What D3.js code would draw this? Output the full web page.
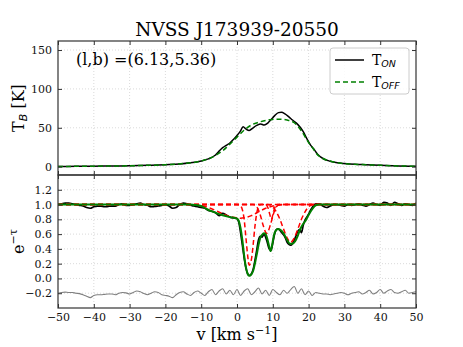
<!DOCTYPE html>
<html><head><meta charset="utf-8">
<script src="https://cdn.jsdelivr.net/npm/d3@7"></script>
<style>body{margin:0;background:#fff}svg{display:block}</style>
</head><body>
<svg id="c" width="463" height="347"></svg>
<script>
// ---------------- DATA ----------------
const titleText = "NVSS J173939-20550";
const coordText = "(l,b) =(6.13,5.36)";
const xTicks = [-50,-40,-30,-20,-10,0,10,20,30,40,50];
const tbTicks = [0,50,100,150];
const etTicks = [-0.2,0.0,0.2,0.4,0.6,0.8,1.0,1.2];

// Emission: T_ON
const tonV = [-50,-45,-40,-35,-30,-25,-20,-16,-13,-10,-8,-6,-5,-4,-3,-2,-1,0,1,1.7,2.5,3.4,4.5,5.5,6.6,7.6,8.6,9.6,10.6,11.6,12.4,13.4,14.5,15.5,16.6,17.6,18.5,19.5,20.5,21.4,22.5,24,26,28,30,33,36,40,45,50];
const tonT = [0.3,0.4,0.6,0.9,1.2,1.8,2.6,3.5,5,7.4,10,15,20,24.5,27.5,30.5,35,40,46,51.5,48.5,46.5,50,53,55,53.5,56,61,66,69.5,70,68,64,60,56,51,45,36,28,23,16,10.5,7,5,4,3,2.5,1.8,1,0.5];
// Emission: T_OFF
const toffV = [-50,-40,-30,-20,-15,-12,-10,-8,-6,-4,-2,0,2,4,6,8,10,12,14,16,18,20,21.3,22,24,26,28,30,35,40,45,50];
const toffT = [0.3,0.6,1.2,2.6,4,5.5,7.3,10,14.5,20.5,29,38,47,53.5,57,59.5,60.8,61,60,56.5,46,31,23,18,10.5,7.2,5,4,2.7,1.8,1,0.5];

// Absorption: observed e^-tau
const obsV = [-50,-49,-48,-47,-46,-45,-44,-43,-42,-41,-40,-39,-38,-37,-36,-35,-34,-33,-32,-31,-30,-29,-28,-27,-26,-25,-24,-23,-22,-21,-20,-19,-18,-17,-16,-15,-14,-13,-12,-11,-10,-9,-8,-7,-6,-5,-4,-3,-2,-1,-0.5,0,0.5,1,1.5,2,2.5,3,3.5,4,4.5,5,5.5,6,6.5,7,7.5,8,8.5,9,9.5,10,10.5,11,11.5,12,12.5,13,13.5,14,14.5,15,15.5,16,16.5,17,17.5,18,18.5,19,19.5,20,20.5,21,21.5,22,23,24,25,26,27,28,29,30,31,32,33,34,35,36,37,38,39,40,41,42,43,44,45,46,47,48,49,50];
const obsE = [1.0,1.01,1.02,1.02,1.01,1.0,0.99,0.98,0.96,0.95,0.97,0.98,0.98,0.97,0.975,0.98,0.98,1.0,1.01,0.99,0.99,1.0,1.01,1.02,1.0,0.99,0.97,0.975,0.98,0.99,1.0,0.98,0.95,0.96,1.0,1.02,1.01,0.99,0.98,0.97,0.96,0.95,0.92,0.91,0.89,0.85,0.88,0.86,0.83,0.82,0.82,0.81,0.76,0.62,0.45,0.28,0.14,0.06,0.04,0.06,0.12,0.24,0.38,0.52,0.57,0.56,0.6,0.56,0.48,0.4,0.38,0.48,0.6,0.66,0.67,0.65,0.62,0.59,0.55,0.49,0.46,0.45,0.47,0.52,0.58,0.64,0.66,0.62,0.72,0.79,0.83,0.87,0.92,0.96,0.99,1.01,1.01,0.98,0.96,0.98,1.0,1.0,0.99,0.98,1.0,0.99,1.0,1.01,0.99,0.98,1.0,1.02,1.0,0.99,1.03,1.02,0.99,1.03,1.01,0.99,1.01,1.0,0.99,1.02];

// Absorption: Gaussian fit (total)
const fitV = [-50,-30,-15,-13,-12,-10,-8.5,-6,-4,-2,0,0.5,1,1.5,2,2.5,3,3.4,4,4.5,5,5.5,6,6.5,7,7.5,8,8.5,9,9.4,9.8,10.3,11,11.5,12,13,14,14.8,15.5,16.2,17,17.6,18.5,19,20,20.9,22,23,50];
const fitE = [1,1,1,1,0.995,0.98,0.94,0.89,0.855,0.83,0.81,0.78,0.68,0.52,0.31,0.15,0.06,0.035,0.055,0.1,0.2,0.32,0.45,0.55,0.59,0.61,0.6,0.53,0.43,0.37,0.45,0.58,0.66,0.67,0.66,0.61,0.52,0.47,0.47,0.5,0.58,0.66,0.74,0.77,0.86,0.93,0.99,1,1];

// Absorption: individual components
const compA_V = [-50,0,0.8,1.5,2,2.5,3,3.4,4,4.5,5,5.5,6,6.7,50];
const compA_E = [1,1,0.99,0.93,0.8,0.55,0.3,0.18,0.25,0.45,0.7,0.88,0.97,1,1];
const compB_V = [-50,-14,-12,-10,-8,-6,-4,-2,0,1,2,4,6,8,10,12,14,50];
const compB_E = [1,1,0.995,0.985,0.96,0.92,0.875,0.84,0.82,0.815,0.82,0.85,0.9,0.95,0.98,0.995,1,1];
const compC_V = [-50,4.5,5.5,6.5,7.3,8.3,9.3,10.1,11,12,50];
const compC_E = [1,1,0.97,0.86,0.72,0.61,0.72,0.86,0.97,1,1];
const compD_V = [-50,8,8.7,9.2,9.6,10,10.5,11.2,50];
const compD_E = [1,1,0.95,0.86,0.8,0.86,0.95,1,1];
const compE_V = [-50,8.5,10,11,12,13,14,15,16,17,18,19,20,21.5,50];
const compE_E = [1,1,0.97,0.9,0.8,0.67,0.55,0.49,0.55,0.67,0.8,0.9,0.97,1,1];

// Residuals (offset to -0.2)
const resV = d3.range(-50, 51, 1);
const resE = [-0.2,-0.19,-0.185,-0.19,-0.19,-0.2,-0.205,-0.22,-0.24,-0.26,-0.23,-0.22,-0.22,-0.215,-0.21,-0.21,-0.22,-0.2,-0.19,-0.195,-0.21,-0.19,-0.17,-0.18,-0.205,-0.22,-0.2,-0.18,-0.19,-0.22,-0.23,-0.24,-0.26,-0.22,-0.19,-0.18,-0.21,-0.23,-0.19,-0.17,-0.2,-0.23,-0.18,-0.15,-0.22,-0.17,-0.14,-0.21,-0.16,-0.22,-0.15,-0.23,-0.17,-0.14,-0.22,-0.18,-0.13,-0.21,-0.16,-0.23,-0.15,-0.19,-0.22,-0.16,-0.2,-0.15,-0.11,-0.2,-0.14,-0.22,-0.17,-0.23,-0.19,-0.2,-0.21,-0.21,-0.22,-0.21,-0.2,-0.19,-0.2,-0.22,-0.2,-0.19,-0.18,-0.21,-0.19,-0.16,-0.21,-0.19,-0.15,-0.2,-0.17,-0.15,-0.19,-0.2,-0.18,-0.16,-0.2,-0.19,-0.18];

// ---------------- DRAW ----------------
const svg = d3.select("#c");
const L = 58, R = 416, T1 = 41, B1 = 175, T2 = 175, B2 = 308;
const serif = "DejaVu Serif";
const x = d3.scaleLinear().domain([-50, 50]).range([L, R]);
const y1 = d3.scaleLinear().domain([-10.7, 161.6]).range([B1, T1]);
const y2 = d3.scaleLinear().domain([-0.4, 1.4]).range([B2, T2]);

const zip = (a, b) => a.map((v, i) => [v, b[i]]);

function panel(y, top, bot, yTickVals, cid) {
  svg.append("clipPath").attr("id", cid).append("rect")
    .attr("x", L).attr("y", top).attr("width", R - L).attr("height", bot - top);
  const g = svg.append("g");
  g.selectAll(null).data(xTicks.slice(1, -1)).enter().append("line")
    .attr("x1", d => x(d)).attr("x2", d => x(d)).attr("y1", top).attr("y2", bot)
    .attr("stroke", "#d0d0d0").attr("stroke-width", 0.8).attr("stroke-dasharray", "1,2");
  g.selectAll(null).data(yTickVals).enter().append("line")
    .attr("x1", L).attr("x2", R).attr("y1", d => y(d)).attr("y2", d => y(d))
    .attr("stroke", "#d0d0d0").attr("stroke-width", 0.8).attr("stroke-dasharray", "1,2");
  return g;
}

panel(y1, T1, B1, tbTicks, "cp1");
panel(y2, T2, B2, etTicks, "cp2");

const ln = (ys) => d3.line().x(d => x(d[0])).y(d => ys(d[1])).curve(d3.curveMonotoneX);

// top panel curves
const c1 = svg.append("g").attr("clip-path", "url(#cp1)");
c1.append("path").attr("d", ln(y1)(zip(tonV, tonT))).attr("fill", "none")
  .attr("stroke", "#000").attr("stroke-width", 1.5);
c1.append("path").attr("d", ln(y1)(zip(toffV, toffT))).attr("fill", "none")
  .attr("stroke", "#008000").attr("stroke-width", 1.5).attr("stroke-dasharray", "5,3");

// bottom panel curves
const c2 = svg.append("g").attr("clip-path", "url(#cp2)");
c2.append("path").attr("d", ln(y2)(zip(resV, resE))).attr("fill", "none")
  .attr("stroke", "#808080").attr("stroke-width", 1.1);
c2.append("path").attr("d", ln(y2)(zip(obsV, obsE))).attr("fill", "none")
  .attr("stroke", "#000").attr("stroke-width", 1.7);
[[compB_V, compB_E], [compA_V, compA_E], [compC_V, compC_E], [compD_V, compD_E], [compE_V, compE_E]]
  .forEach(([v, e]) => {
    c2.append("path").attr("d", ln(y2)(zip(v, e))).attr("fill", "none")
      .attr("stroke", "#ff0000").attr("stroke-width", 1.5).attr("stroke-dasharray", "5,3");
  });
c2.append("path").attr("d", ln(y2)(zip(fitV, fitE))).attr("fill", "none")
  .attr("stroke", "#008000").attr("stroke-width", 2);

// axes
function axes(y, top, bot, yTickVals, fmt, showX) {
  const ax = svg.append("g").attr("transform", `translate(0,${bot})`)
    .call(d3.axisBottom(x).tickValues(xTicks).tickSizeInner(-4).tickSizeOuter(0)
      .tickPadding(5).tickFormat(showX ? d3.format("d") : ""));
  const axt = svg.append("g").attr("transform", `translate(0,${top})`)
    .call(d3.axisTop(x).tickValues(xTicks).tickSizeInner(-4).tickSizeOuter(0).tickFormat(""));
  const ayl = svg.append("g").attr("transform", `translate(${L},0)`)
    .call(d3.axisLeft(y).tickValues(yTickVals).tickSizeInner(-4).tickSizeOuter(0)
      .tickPadding(6).tickFormat(fmt));
  const ayr = svg.append("g").attr("transform", `translate(${R},0)`)
    .call(d3.axisRight(y).tickValues(yTickVals).tickSizeInner(-4).tickSizeOuter(0).tickFormat(""));
  [ax, axt, ayl, ayr].forEach(a => {
    a.select(".domain").remove();
    a.selectAll("line").attr("stroke", "#333");
    a.selectAll("text").attr("font-family", serif).attr("font-size", 11).attr("fill", "#111");
  });
  svg.append("rect").attr("x", L).attr("y", top).attr("width", R - L).attr("height", bot - top)
    .attr("fill", "none").attr("stroke", "#333").attr("stroke-width", 1.2);
}
axes(y1, T1, B1, tbTicks, d3.format("d"), false);
axes(y2, T2, B2, etTicks, d => d3.format(".1f")(d), true);

// texts
svg.append("text").attr("x", (L + R) / 2).attr("y", 36).attr("text-anchor", "middle")
  .attr("font-family", serif).attr("font-size", 18.5).attr("fill", "#000").text(titleText);
svg.append("text").attr("x", 76).attr("y", 65).attr("font-family", serif)
  .attr("font-size", 16).attr("fill", "#000").text(coordText);

// y label top
const yl1 = svg.append("text").attr("transform", `translate(24,${(T1 + B1) / 2}) rotate(-90)`)
  .attr("text-anchor", "middle").attr("font-family", serif).attr("font-size", 16).attr("fill", "#000");
yl1.append("tspan").text("T");
yl1.append("tspan").attr("font-family", "DejaVu Sans").attr("font-style", "italic")
  .attr("font-size", 11).attr("dy", 3).text("B");
yl1.append("tspan").attr("dy", -3).text(" [K]");

// y label bottom
const yl2 = svg.append("text").attr("transform", `translate(24,${(T2 + B2) / 2}) rotate(-90)`)
  .attr("text-anchor", "middle").attr("font-family", serif).attr("font-size", 16).attr("fill", "#000");
yl2.append("tspan").text("e");
yl2.append("tspan").attr("font-size", 11).attr("dy", -7).text("−τ");

// x label
const xl = svg.append("text").attr("x", (L + R) / 2).attr("y", 340).attr("text-anchor", "middle")
  .attr("font-family", serif).attr("font-size", 16).attr("fill", "#000");
xl.append("tspan").text("v [km s");
xl.append("tspan").attr("font-size", 11).attr("dy", -6).text("−1");
xl.append("tspan").attr("dy", 6).text("]");

// legend
const lg = svg.append("g");
lg.append("rect").attr("x", 330).attr("y", 48).attr("width", 79).attr("height", 46)
  .attr("rx", 3).attr("fill", "#fff").attr("fill-opacity", 0.85).attr("stroke", "#ccc").attr("stroke-width", 1);
const legItems = [
  {sub: "ON", color: "#000", dash: null, yy: 60},
  {sub: "OFF", color: "#008000", dash: "5,3", yy: 82}
];
legItems.forEach(it => {
  lg.append("line").attr("x1", 335).attr("x2", 364).attr("y1", it.yy).attr("y2", it.yy)
    .attr("stroke", it.color).attr("stroke-width", 1.5).attr("stroke-dasharray", it.dash);
  const t = lg.append("text").attr("x", 372).attr("y", it.yy + 5).attr("font-family", serif)
    .attr("font-size", 14).attr("fill", "#000");
  t.append("tspan").text("T");
  t.append("tspan").attr("font-family", "DejaVu Sans").attr("font-style", "italic")
    .attr("font-size", 9.5).attr("dy", 2).text(it.sub);
});
</script>
</body></html>
